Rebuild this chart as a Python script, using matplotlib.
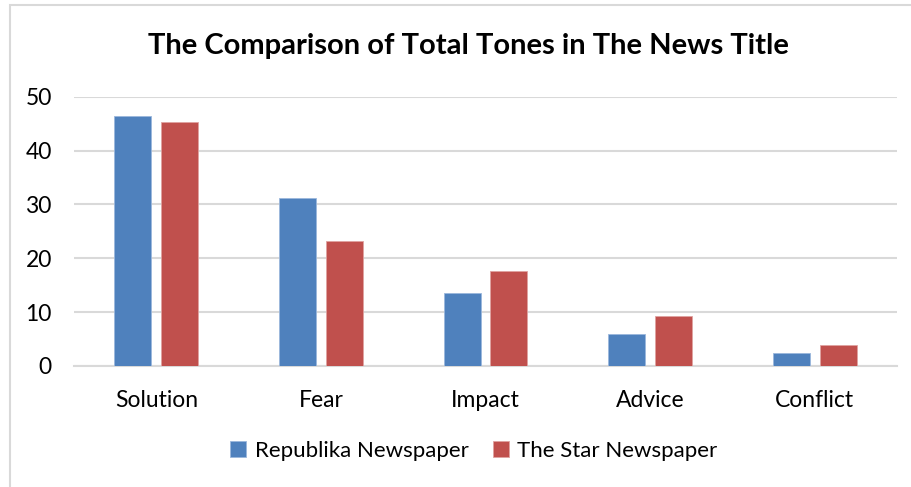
import matplotlib

matplotlib.use("Agg")
import matplotlib.pyplot as plt
import numpy as np
from matplotlib.patches import Rectangle

# values
categories = ["Solution", "Fear", "Impact", "Advice", "Conflict"]
republika = [46.5, 31.1, 13.6, 6.0, 2.4]
the_star = [45.3, 23.3, 17.6, 9.3, 3.9]
series_names = ["Republika Newspaper", "The Star Newspaper"]
yticks = [0, 10, 20, 30, 40, 50]

plt.rcParams["font.family"] = ["Lato", "DejaVu Sans"]

fig = plt.figure(figsize=(9.12, 4.87), dpi=100)
ax = fig.add_axes([74 / 912, 1 - 366 / 487, (897 - 74) / 912, (366 - 96.7) / 487])

x = np.arange(len(categories))
width = 0.225
off = 0.142
ax.bar(x - off, republika, width, color="#4F81BD", label=series_names[0],
       edgecolor="#9BB7DC", linewidth=0.6, zorder=3)
ax.bar(x + off, the_star, width, color="#C0504D", label=series_names[1],
       edgecolor="#E0A3A1", linewidth=0.6, zorder=3)

ax.set_xlim(-0.5, len(categories) - 0.5)
ax.set_ylim(0, 50)
ax.set_yticks(yticks)
ax.set_xticks(x)
ax.set_xticklabels(categories)
ax.tick_params(axis="y", length=0, pad=16, labelsize=16.5)
ax.tick_params(axis="x", length=0, pad=17, labelsize=16.5)
ax.grid(axis="y", color="#D9D9D9", linewidth=1.5, zorder=0)
for s in ["top", "right", "left"]:
    ax.spines[s].set_visible(False)
ax.spines["bottom"].set_color("#D9D9D9")
ax.spines["bottom"].set_linewidth(1.5)

fig.text(468 / 912, 1 - 46 / 487, "The Comparison of Total Tones in The News Title",
         ha="center", va="center", fontsize=21, fontweight="bold")

fig.legend(loc="center", bbox_to_anchor=(474 / 912, 1 - 451 / 487), ncol=2,
           frameon=False, fontsize=16, handlelength=0.7, handleheight=0.7,
           handletextpad=0.4, columnspacing=1.1)

# outer chart border (clipped by the figure edge like in the reference)
fig.add_artist(Rectangle((10 / 912, -0.1), 1.0, 1.1 - 5 / 487,
                         transform=fig.transFigure, fill=False,
                         edgecolor="#D9D9D9", linewidth=1.5))

fig.savefig("out.png", dpi=100)
